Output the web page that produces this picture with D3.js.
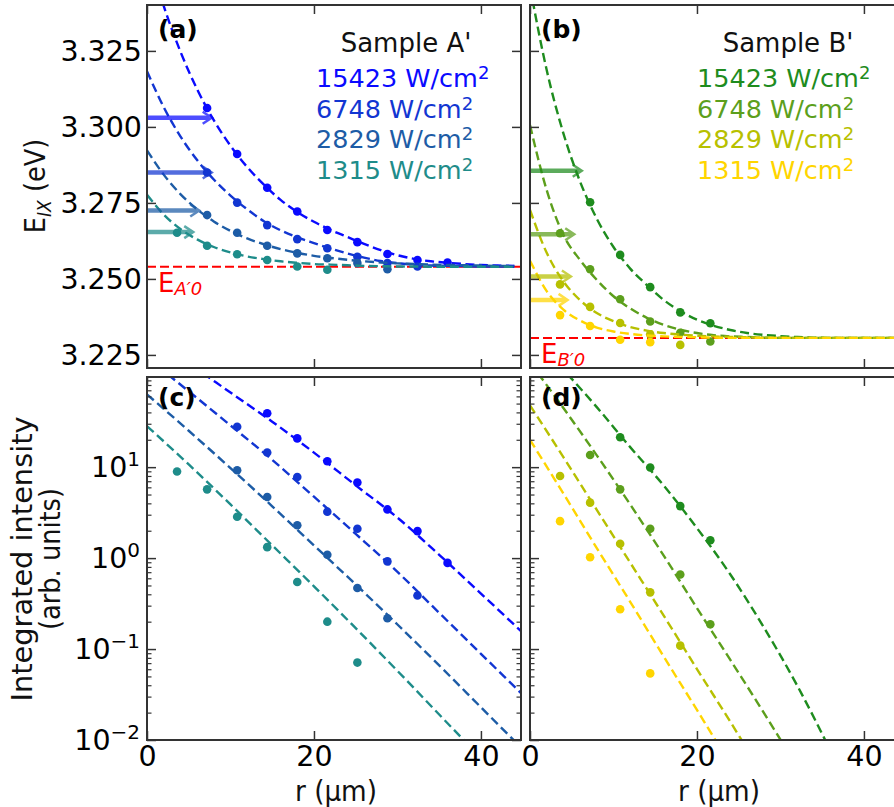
<!DOCTYPE html>
<html><head><meta charset="utf-8">
<script src="https://cdn.jsdelivr.net/npm/d3@7"></script>
<style>body{margin:0;background:#fff} svg{display:block}</style>
</head><body>
<svg id="chart" width="894" height="807"></svg>
<script>
// ================= DATA =================
const powerLabels = ["15423", "6748", "2829", "1315"];
const colorsA = ["#0a0aff", "#1236d2", "#1d5ca6", "#1e8c8a"];
const colorsB = ["#1e8c1e", "#5c9f1c", "#b7c000", "#ffd500"];

const xTicks = [0, 20, 40];
const eTicks = [3.225, 3.250, 3.275, 3.300, 3.325];
const logMajor = [0.01, 0.1, 1, 10];
const logExp = ["\u22122", "\u22121", "0", "1"];

// ---- panel (a): measured E_IX (eV) vs r (um), Sample A'
const rPointsA = [
  [7.2, 10.8, 14.4, 18, 21.6, 25.2, 28.8, 32.4, 36.0],
  [7.2, 10.8, 14.4, 18, 21.6, 25.2, 28.8, 32.4],
  [7.2, 10.8, 14.4, 18, 21.6, 25.2, 28.8],
  [3.6, 7.2, 10.8, 14.4, 18, 21.6]
];
const energyA = [
  [3.3062, 3.2911, 3.2800, 3.2722, 3.2661, 3.2621, 3.2582, 3.2562, 3.2554],
  [3.2850, 3.2751, 3.2677, 3.2631, 3.2601, 3.2573, 3.2552, 3.2541],
  [3.2710, 3.2652, 3.2609, 3.2584, 3.2568, 3.2552, 3.2532],
  [3.2652, 3.2609, 3.2581, 3.2562, 3.2541, 3.2530]
];
// fitted curves, sampled at fitR
const fitR = [0,2,4,6,8,10,12,14,16,18,20,22,24,26,28,30,32,34,36,38,40,42,44];
const fitEA = [
  [3.3580,3.3398,3.3248,3.3124,3.3022,3.2938,3.2868,3.2810,3.2760,3.2720,3.2688,3.2661,3.2638,3.2615,3.2595,3.2578,3.2566,3.2558,3.2553,3.2549,3.2546,3.2544,3.2543],
  [3.3183,3.3065,3.2969,3.2891,3.2827,3.2774,3.2729,3.2690,3.2660,3.2637,3.2618,3.2600,3.2584,3.2570,3.2559,3.2552,3.2547,3.2544,3.2543,3.2542,3.2541,3.2541,3.2540],
  [3.2923,3.2843,3.2779,3.2729,3.2689,3.2658,3.2633,3.2614,3.2598,3.2586,3.2576,3.2569,3.2563,3.2558,3.2554,3.2551,3.2549,3.2547,3.2546,3.2545,3.2544,3.2543,3.2543],
  [3.2777,3.2712,3.2664,3.2630,3.2605,3.2587,3.2574,3.2565,3.2558,3.2553,3.2549,3.2547,3.2545,3.2543,3.2542,3.2541,3.2541,3.2540,3.2540,3.2540,3.2540,3.2540,3.2540]
];
const arrowTipA = [7.75, 7.75, 6.26, 5.54];
const arrowEA = [3.3030, 3.2850, 3.2725, 3.2654];
const e0A = 3.2540;

// ---- panel (b): Sample B'
const rPointsB = [
  [7.2, 10.8, 14.4, 18, 21.6],
  [3.6, 7.2, 10.8, 14.4, 18, 21.6],
  [3.6, 7.2, 10.8, 14.4, 18],
  [3.6, 7.2, 10.8, 14.4]
];
const energyB = [
  [3.2752, 3.2579, 3.2473, 3.2390, 3.2354],
  [3.2650, 3.2532, 3.2433, 3.2360, 3.2323, 3.2294],
  [3.2482, 3.2408, 3.2355, 3.2318, 3.2283],
  [3.2381, 3.2345, 3.2300, 3.2292]
];
const fitEB = [
  [3.3461,3.3187,3.2979,3.2820,3.2698,3.2605,3.2534,3.2480,3.2431,3.2394,3.2366,3.2346,3.2332,3.2322,3.2316,3.2312,3.2309,3.2307,3.2306,3.2306,3.2306,3.2306,3.2306],
  [3.3006,3.2792,3.2645,3.2562,3.2497,3.2443,3.2403,3.2372,3.2349,3.2333,3.2322,3.2315,3.2311,3.2309,3.2307,3.2306,3.2306,3.2306,3.2306,3.2306,3.2306,3.2306,3.2306],
  [3.2727,3.2586,3.2492,3.2430,3.2388,3.2361,3.2342,3.2330,3.2322,3.2317,3.2313,3.2311,3.2309,3.2308,3.2307,3.2307,3.2306,3.2306,3.2306,3.2306,3.2306,3.2306,3.2306],
  [3.2560,3.2460,3.2399,3.2363,3.2340,3.2327,3.2319,3.2314,3.2311,3.2309,3.2308,3.2307,3.2306,3.2306,3.2306,3.2306,3.2306,3.2306,3.2306,3.2306,3.2306,3.2306,3.2306]
];
const arrowTipB = [6.2, 5.3, 4.9, 4.5];
const arrowEB = [3.2856, 3.2647, 3.2508, 3.2431];
const e0B = 3.2306;

// ---- panel (c): integrated intensity (arb. units), Sample A'
const rPointsC = [
  [14.4, 18, 21.6, 25.2, 28.8, 32.4, 36.0],
  [10.8, 14.4, 18, 21.6, 25.2, 28.8, 32.4],
  [10.8, 14.4, 18, 21.6, 25.2, 28.8],
  [3.6, 7.2, 10.8, 14.4, 18, 21.6, 25.2]
];
const intensityC = [
  [39.2, 20.7, 11.6, 6.78, 3.43, 1.98, 0.886],
  [27.8, 14.5, 7.8, 3.24, 2.1, 0.92, 0.388],
  [9.26, 4.7, 2.3, 1.09, 0.469, 0.218],
  [8.96, 5.7, 2.85, 1.32, 0.546, 0.20, 0.071]
];
const fitRC = [0, 5, 10, 15, 20, 25, 30, 35, 40, 45];
const fitLog10C = [
  [2.45, 2.14, 1.82, 1.50, 1.16, 0.80, 0.445, 0.036, -0.39, -0.82],
  [2.204, 1.834, 1.459, 1.080, 0.675, 0.266, -0.152, -0.602, -1.052, -1.502],
  [1.80, 1.40, 0.99, 0.57, 0.14, -0.29, -0.73, -1.18, -1.64, -2.10],
  [1.45, 1.03, 0.59, 0.14, -0.31, -0.77, -1.24, -1.72, -2.20, -2.70]
];

// ---- panel (d): Sample B'
const rPointsD = [
  [10.8, 14.4, 18, 21.6],
  [7.2, 10.8, 14.4, 18, 21.6],
  [3.6, 7.2, 10.8, 14.4, 18],
  [3.6, 7.2, 10.8, 14.4]
];
const intensityD = [
  [21.3, 9.9, 3.73, 1.57],
  [13.6, 5.7, 2.1, 0.66, 0.187],
  [8.0, 4.07, 1.44, 0.42, 0.109],
  [2.55, 1.02, 0.274, 0.054]
];
const fitRD = [0, 4, 8, 12, 16, 20, 24, 28, 32, 36, 40];
const fitLog10D = [
  [2.45, 2.07, 1.66, 1.22, 0.80, 0.33, -0.18, -0.76, -1.40, -2.12, -2.90],
  [2.15, 1.65, 1.13, 0.59, 0.03, -0.55, -1.12, -1.70, -2.30, -2.95, -3.60],
  [1.68, 1.11, 0.53, -0.05, -0.63, -1.22, -1.80, -2.40, -3.00, -3.60, -4.20],
  [1.30, 0.71, 0.11, -0.48, -1.08, -1.67, -2.27, -2.87, -3.50, -4.10, -4.70]
];

// ================= DRAWING =================
const svg = d3.select("#chart");
svg.append("rect").attr("width", 894).attr("height", 807).attr("fill", "#fff");

const W = 374, H = 363;
const TICK_FONT = "'DejaVu Sans', sans-serif";
const LABEL_FONT = "'DejaVu Sans Condensed', 'DejaVu Sans', sans-serif";
const SPINE = "#333";

const x = d3.scaleLinear().domain([0, 44.8]).range([0, W]);
const yE = d3.scaleLinear().domain([3.2207, 3.3401]).range([H, 0]);
const yI = d3.scaleLog().domain([0.01, 98]).range([H, 0]);

svg.append("defs").append("clipPath").attr("id", "clip")
  .append("rect").attr("x", 0).attr("y", 0).attr("width", W).attr("height", H);

function styleAxis(g) {
  g.select(".domain").remove();
  g.selectAll(".tick line").attr("stroke", SPINE).attr("stroke-width", 1.5);
  g.selectAll(".tick text").attr("font-family", TICK_FONT).attr("font-size", 28.5).attr("fill", "#000");
}

function makePanel(x0, y0, yScale, isLog, showY, showX) {
  const g = svg.append("g").attr("transform", `translate(${x0},${y0})`);
  const plot = g.append("g").attr("clip-path", "url(#clip)");
  const bx = g.append("g").attr("transform", `translate(0,${H})`)
    .call(d3.axisBottom(x).tickValues(xTicks).tickSize(-9).tickPadding(6)
      .tickFormat(showX ? d3.format("d") : () => ""));
  styleAxis(bx);
  const tx = g.append("g").call(d3.axisTop(x).tickValues(xTicks).tickSize(-9).tickFormat(() => ""));
  styleAxis(tx);
  if (!isLog) {
    const ly = g.append("g").call(d3.axisLeft(yScale).tickValues(eTicks).tickSize(-9).tickPadding(5)
      .tickFormat(showY ? d3.format(".3f") : () => ""));
    styleAxis(ly);
    const ry = g.append("g").attr("transform", `translate(${W},0)`)
      .call(d3.axisRight(yScale).tickValues(eTicks).tickSize(-9).tickFormat(() => ""));
    styleAxis(ry);
  } else {
    const minor = [];
    logMajor.forEach(d => { for (let k = 2; k <= 9; k++) { const v = d * k; if (v < 98) minor.push(v); } });
    [[d3.axisLeft, 0], [d3.axisRight, W]].forEach(([ax, tx0]) => {
      const mg = g.append("g").attr("transform", `translate(${tx0},0)`)
        .call(ax(yScale).tickValues(minor).tickSize(-4.5).tickFormat(() => ""));
      styleAxis(mg);
      mg.selectAll(".tick line").attr("stroke-width", 1.2);
    });
    const ly = g.append("g").call(d3.axisLeft(yScale).tickValues(logMajor).tickSize(-9).tickPadding(7)
      .tickFormat(() => ""));
    styleAxis(ly);
    if (showY) {
      ly.selectAll(".tick text").each(function (d, i) {
        const t = d3.select(this);
        t.text("10");
        t.append("tspan").attr("font-size", 20).attr("dy", -11).text(logExp[i]);
      });
    }
    const ry = g.append("g").attr("transform", `translate(${W},0)`)
      .call(d3.axisRight(yScale).tickValues(logMajor).tickSize(-9).tickFormat(() => ""));
    styleAxis(ry);
  }
  g.append("rect").attr("width", W).attr("height", H).attr("fill", "none")
    .attr("stroke", SPINE).attr("stroke-width", 2);
  return { g, plot };
}

function drawEnergyPanel(p, rPts, ePts, fitE, colors, tips, arrE, e0) {
  p.plot.append("line").attr("x1", 0).attr("x2", W).attr("y1", yE(e0)).attr("y2", yE(e0))
    .attr("stroke", "#ff0000").attr("stroke-width", 2).attr("stroke-dasharray", "9,4");
  const line = d3.line().x(d => x(d[0])).y(d => yE(d[1])).curve(d3.curveMonotoneX);
  rPts.forEach((rs, i) => {
    p.plot.append("g").selectAll("circle").data(rs.map((r, j) => [r, ePts[i][j]])).join("circle")
      .attr("cx", d => x(d[0])).attr("cy", d => yE(d[1])).attr("r", 4.3).attr("fill", colors[i]);
  });
  fitE.forEach((es, i) => {
    p.plot.append("path").datum(fitR.map((r, j) => [r, es[j]])).attr("d", line)
      .attr("fill", "none").attr("stroke", colors[i]).attr("stroke-width", 2.4)
      .attr("stroke-dasharray", "9,4.5");
  });
  tips.forEach((t, i) => {
    const yy = yE(arrE[i]), xt = x(t);
    const a = p.plot.append("g").attr("opacity", 0.72);
    a.append("line").attr("x1", 0).attr("x2", xt - 2).attr("y1", yy).attr("y2", yy)
      .attr("stroke", colors[i]).attr("stroke-width", 4.5);
    a.append("path").attr("d", `M${xt - 9},${yy - 6}L${xt},${yy}L${xt - 9},${yy + 6}`)
      .attr("fill", "none").attr("stroke", colors[i]).attr("stroke-width", 2.5);
  });
}

function drawIntensityPanel(p, rPts, iPts, fitRs, fitLog, colors) {
  const line = d3.line().x(d => x(d[0])).y(d => yI(d[1])).curve(d3.curveMonotoneX);
  rPts.forEach((rs, i) => {
    p.plot.append("g").selectAll("circle").data(rs.map((r, j) => [r, iPts[i][j]])).join("circle")
      .attr("cx", d => x(d[0])).attr("cy", d => yI(d[1])).attr("r", 4.3).attr("fill", colors[i]);
  });
  fitLog.forEach((ls, i) => {
    p.plot.append("path").datum(fitRs.map((r, j) => [r, Math.pow(10, ls[j])])).attr("d", line)
      .attr("fill", "none").attr("stroke", colors[i]).attr("stroke-width", 2.4)
      .attr("stroke-dasharray", "9,4.5");
  });
}

function legend(p, title, colors, cx, lx) {
  p.g.append("text").attr("x", cx).attr("y", 47).attr("text-anchor", "middle")
    .attr("font-family", TICK_FONT).attr("font-size", 26).attr("fill", "#111").text(title);
  powerLabels.forEach((s, i) => {
    const t = p.g.append("text").attr("x", lx).attr("y", 82 + i * 30.5)
      .attr("font-family", TICK_FONT).attr("font-size", 25.5).attr("fill", colors[i]);
    t.append("tspan").text(s + " W/cm");
    t.append("tspan").attr("font-size", 18).attr("dy", -8).text("2");
  });
}

function panelLabel(p, s, y) {
  p.g.append("text").attr("x", 11).attr("y", y).attr("font-family", TICK_FONT)
    .attr("font-weight", "bold").attr("font-size", 25).attr("fill", "#000").text(s);
}

function e0Label(p, e0, sub) {
  const t = p.g.append("text").attr("x", 11).attr("y", yE(e0) + 25)
    .attr("font-family", TICK_FONT).attr("font-size", 26).attr("fill", "#ff0000");
  t.append("tspan").text("E");
  t.append("tspan").attr("font-size", 18).attr("font-style", "italic").attr("dy", 3).text(sub);
}

const pa = makePanel(147, 5, yE, false, true, false);
const pb = makePanel(530, 5, yE, false, false, false);
const pc = makePanel(147, 377, yI, true, true, true);
const pd = makePanel(530, 377, yI, true, false, true);

drawEnergyPanel(pa, rPointsA, energyA, fitEA, colorsA, arrowTipA, arrowEA, e0A);
drawEnergyPanel(pb, rPointsB, energyB, fitEB, colorsB, arrowTipB, arrowEB, e0B);
drawIntensityPanel(pc, rPointsC, intensityC, fitRC, fitLog10C, colorsA);
drawIntensityPanel(pd, rPointsD, intensityD, fitRD, fitLog10D, colorsB);

legend(pa, "Sample A'", colorsA, 259, 169);
legend(pb, "Sample B'", colorsB, 258, 167);
panelLabel(pa, "(a)", 33); panelLabel(pb, "(b)", 33);
panelLabel(pc, "(c)", 29); panelLabel(pd, "(d)", 29);
e0Label(pa, e0A, "A\u20320");
e0Label(pb, e0B, "B\u20320");

[[147, "r (\u00b5m)"], [530, "r (\u00b5m)"]].forEach(([x0, s]) => {
  svg.append("text").attr("x", x0 + W / 2 + 2).attr("y", 801).attr("text-anchor", "middle")
    .attr("font-family", LABEL_FONT).attr("font-size", 28.5).attr("fill", "#111")
    .attr("textLength", 82).attr("lengthAdjust", "spacingAndGlyphs").text(s);
});
const ey = svg.append("text").attr("transform", "translate(45,186) rotate(-90)")
  .attr("text-anchor", "middle").attr("font-family", LABEL_FONT).attr("font-size", 28.5).attr("fill", "#111");
ey.append("tspan").text("E");
ey.append("tspan").attr("font-size", 19).attr("font-style", "italic").attr("dy", 6).text("IX");
ey.append("tspan").attr("dy", -6).text(" (eV)");

svg.append("text").attr("transform", "translate(32,559) rotate(-90)").attr("text-anchor", "middle")
  .attr("font-family", LABEL_FONT).attr("font-size", 28.5).attr("fill", "#111")
  .attr("textLength", 285).attr("lengthAdjust", "spacingAndGlyphs").text("Integrated intensity");
svg.append("text").attr("transform", "translate(60,559) rotate(-90)").attr("text-anchor", "middle")
  .attr("font-family", LABEL_FONT).attr("font-size", 28.5).attr("fill", "#111")
  .attr("textLength", 142).attr("lengthAdjust", "spacingAndGlyphs").text("(arb. units)");
</script>
</body></html>
